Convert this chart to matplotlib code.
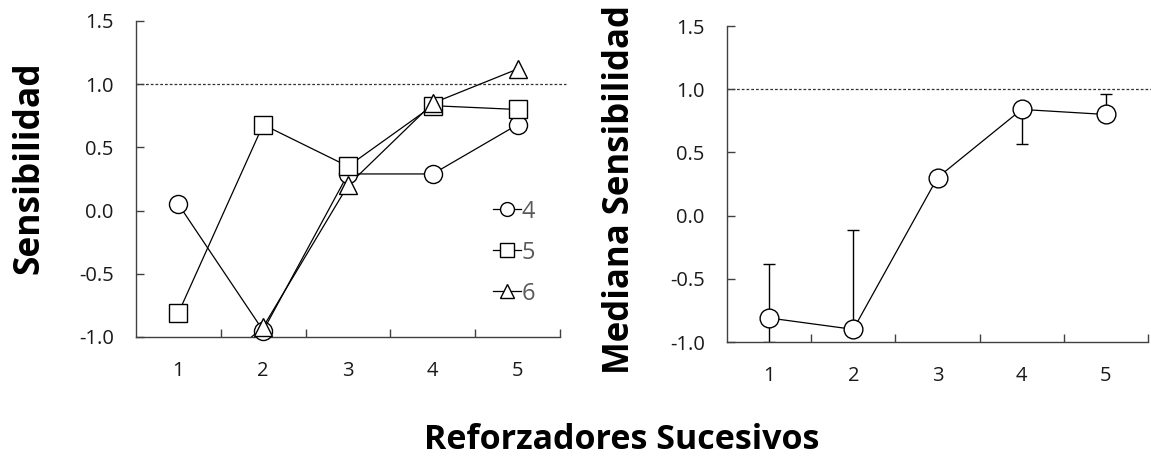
import numpy as np
import matplotlib
matplotlib.use("Agg")
import matplotlib.pyplot as plt
from matplotlib.lines import Line2D

plt.rcParams['font.family'] = ['Open Sans', 'DejaVu Sans']

# ---- data ----
reforzadores = [1, 2, 3, 4, 5]
xticklabels = ["1", "2", "3", "4", "5"]
yticks = [-1.0, -0.5, 0.0, 0.5, 1.0, 1.5]

sujeto_4 = [0.05, -0.95, 0.29, 0.29, 0.68]
sujeto_5 = [-0.81, 0.68, 0.35, 0.83, 0.80]
sujeto_6 = [-1.50, -0.92, 0.20, 0.85, 1.12]
series_names = ["4", "5", "6"]

mediana = [-0.81, -0.90, 0.30, 0.84, 0.80]
mediana_sup = [-0.38, -0.11, 0.30, 0.84, 0.96]
mediana_inf = [-1.00, -0.90, 0.30, 0.57, 0.80]

referencia = 1.0

W, H = 1151, 459
fig = plt.figure(figsize=(W / 100, H / 100), dpi=100)

def px_axes(x0, x1, ytop, ybot):
    return fig.add_axes([x0 / W, 1 - ybot / H, (x1 - x0) / W, (ybot - ytop) / H])

ax1 = px_axes(136, 560, 21, 337)
ax2 = px_axes(727, 1148, 26, 342)

spine_col = '#404040'
tick_fs = 14.5
tick_col = '#1a1a1a'

def style(ax):
    ax.set_xlim(0.5, 5.5)
    ax.set_ylim(-1.0, 1.5)
    for s in ['top', 'right']:
        ax.spines[s].set_visible(False)
    for s in ['left', 'bottom']:
        ax.spines[s].set_color(spine_col)
        ax.spines[s].set_linewidth(1.0)
    ax.set_yticks(yticks)
    ax.set_yticklabels([f"{v:.1f}" for v in yticks], fontsize=tick_fs, color=tick_col)
    ax.tick_params(axis='y', direction='in', length=6, width=1, color=spine_col, pad=16)
    # category labels centred, tick marks between categories
    ax.set_xticks(reforzadores)
    ax.set_xticklabels(xticklabels, fontsize=tick_fs, color=tick_col)
    ax.tick_params(axis='x', which='major', length=0, pad=17)
    ax.set_xticks([1.5, 2.5, 3.5, 4.5, 5.5], minor=True)
    ax.tick_params(axis='x', which='minor', direction='in', length=6, width=1, color=spine_col)
    ax.plot([0.5, 5.57], [referencia, referencia], ls=(0, (2.2, 1.6)), lw=0.9,
            color='#333333', clip_on=False, zorder=1)

style(ax1)
style(ax2)

x = np.array(reforzadores)
markers = ['o', 's', '^']
msizes = [13, 12.5, 13]
for vals, m, ms in zip([sujeto_4, sujeto_5, sujeto_6], markers, msizes):
    v = np.array(vals)
    ax1.plot(x, v, color='black', lw=0.9, zorder=2)
    mask = v >= -1.0
    ax1.plot(x[mask], v[mask], ls='none', marker=m, ms=ms, mfc='white', mec='black',
             mew=1.0, clip_on=False, zorder=3)

# legend
handles = [Line2D([], [], color='black', lw=0.9, marker=m, ms=10, mfc='white',
                  mec='black', mew=1.0) for m in markers]
leg = ax1.legend(handles, series_names, loc='upper left', bbox_to_anchor=(0.82, 0.465),
                 frameon=False, handlelength=1.2, handletextpad=0.0, labelspacing=0.72,
                 fontsize=17, borderaxespad=0)
for t in leg.get_texts():
    t.set_color('#595959')

# right panel
med = np.array(mediana)
yerr = np.vstack([med - np.array(mediana_inf), np.array(mediana_sup) - med])
ax2.errorbar(x, med, yerr=yerr, fmt='none', ecolor='black', elinewidth=1.0,
             capsize=4, capthick=1.0, zorder=2)
ax2.plot(x, med, color='black', lw=0.9, marker='o', ms=13.5, mfc='white', mec='black',
         mew=1.0, clip_on=False, zorder=3)

# labels
fig.text(29 / W, 1 - 168 / H, "Sensibilidad", rotation=90, ha='center', va='center',
         fontsize=25.5, fontweight='bold')
fig.text(620 / W, 1 - 190 / H, "Mediana Sensibilidad", rotation=90, ha='center',
         va='center', fontsize=25, fontweight='bold')
fig.text(622 / W, 1 - 440 / H, "Reforzadores Sucesivos", ha='center', va='center',
         fontsize=24.5, fontweight='bold')

fig.savefig("out.png", dpi=100)
